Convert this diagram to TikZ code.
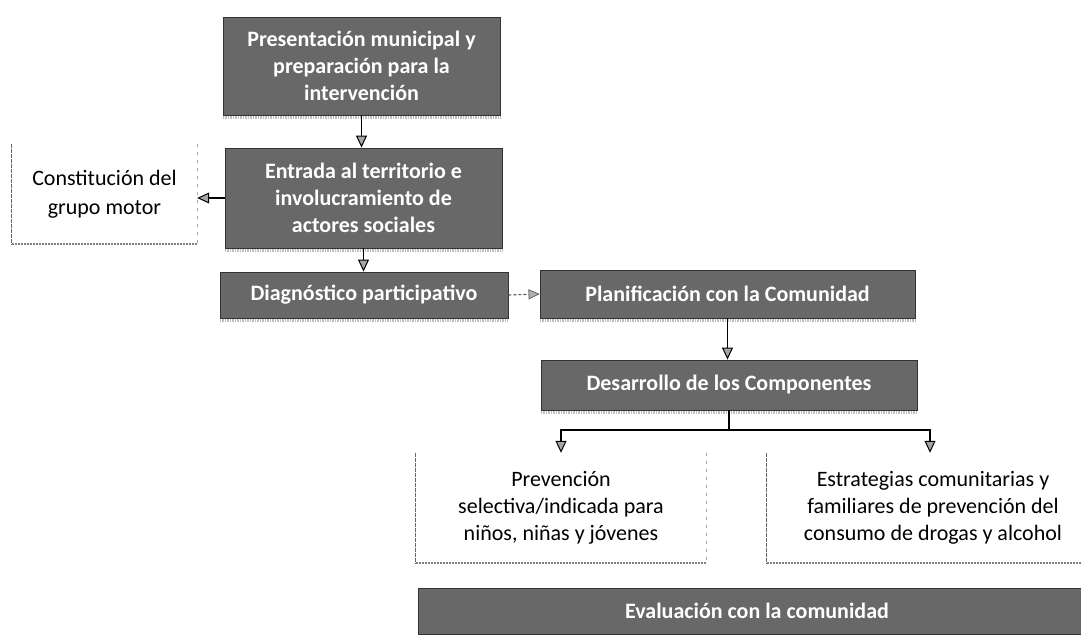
\documentclass[tikz,border=0pt]{standalone}
\usepackage{fontspec}
\setmainfont{Carlito}
\usetikzlibrary{arrows.meta}
\definecolor{boxgray}{RGB}{104,104,104}
\tikzset{
  dbox/.style={rectangle, fill=boxgray, draw=black!80, line width=0.9pt, text=white,
    align=center, inner sep=0pt, font=\fontsize{22}{27}\selectfont\bfseries},
  wbox/.style={rectangle, align=center, inner sep=0pt, text=black,
    font=\fontsize{22}{27}\selectfont},
  leftb/.style={draw=black!60, line width=0.7pt, dash pattern=on 4pt off 1pt},
  rightb/.style={draw=black!35, line width=0.6pt, dash pattern=on 3pt off 5pt},
  botb/.style={draw=black!50, line width=2.4pt, dash pattern=on 2pt off 1pt},
  shade/.style={draw=black!25, line width=3pt, dash pattern=on 1.5pt off 1pt},
  arr/.style={draw=black, line width=1.3pt, -{Triangle[width=11pt,length=12pt,fill=black!35,line width=1pt]}},
  darr/.style={draw=black!65, line width=1.1pt, dash pattern=on 3pt off 2pt, -{Triangle[width=10pt,length=11pt,fill=black!30,line width=0.7pt]}}
}
\begin{document}
\begin{tikzpicture}[x=1pt,y=-1pt]
\useasboundingbox (0,0) rectangle (1081,635);
\clip (0,0) rectangle (1081,635);
\fill[white] (0,0) rectangle (1081,635);

% dark boxes
\node[dbox, minimum width=277, minimum height=98] (b1) at (361.5,66)
  {Presentación municipal y\\preparación para la\\intervención};
\node[dbox, minimum width=277, minimum height=100] (b2) at (363.5,198)
  {Entrada al territorio e\\involucramiento de\\actores sociales};
\node[dbox, minimum width=288, minimum height=46] (b3) at (364,295)
  {Diagnóstico participativo};
\node[dbox, minimum width=375, minimum height=48] (b4) at (727.5,294)
  {Planificación con la Comunidad};
\node[dbox, minimum width=376, minimum height=50] (b5) at (729,385)
  {Desarrollo de los Componentes};
\node[dbox, minimum width=678, minimum height=46] (ev) at (757,611)
  {Evaluación con la comunidad};

% shadows under dark boxes
\foreach \n in {b1,b2,b3,b4,b5}{
  \draw[shade] ([yshift=-2.5pt]\n.south west) -- ([yshift=-2.5pt]\n.south east);
}

% white boxes
\node[wbox, minimum width=185, minimum height=100, font=\fontsize{22}{29}\selectfont] (cons) at (104.5,194)
  {Constitución del\\grupo motor};
\node[wbox, minimum width=290, minimum height=110] (prev) at (561,508)
  {Prevención\\selectiva/indicada para\\niños, niñas y jóvenes};
\node[wbox, minimum width=332, minimum height=110] (est) at (933,508)
  {Estrategias comunitarias y\\familiares de prevención del\\consumo de drogas y alcohol};

\foreach \n in {cons,prev,est}{
  \draw[leftb] (\n.north west) -- (\n.south west);
  \draw[rightb] (\n.north east) -- (\n.south east);
  \draw[botb] (\n.south west) -- (\n.south east);
}

% connectors
\draw[arr] (b1.south) -- (b1.south |- b2.north);
\draw[arr] (b2.west) -- (b2.west -| cons.east);
\draw[arr] (b2.south) -- (b2.south |- b3.north);
\draw[darr] (b3.east) -- (b4.west);
\draw[arr] (b4.south) -- (b4.south |- b5.north);
\coordinate (split) at (729,430);
\draw[draw=black, line width=1.3pt] (b5.south) -- (split);
\draw[arr] (split) -| (prev.north);
\draw[arr] (split) -| ([xshift=-3pt]est.north);
\end{tikzpicture}
\end{document}
